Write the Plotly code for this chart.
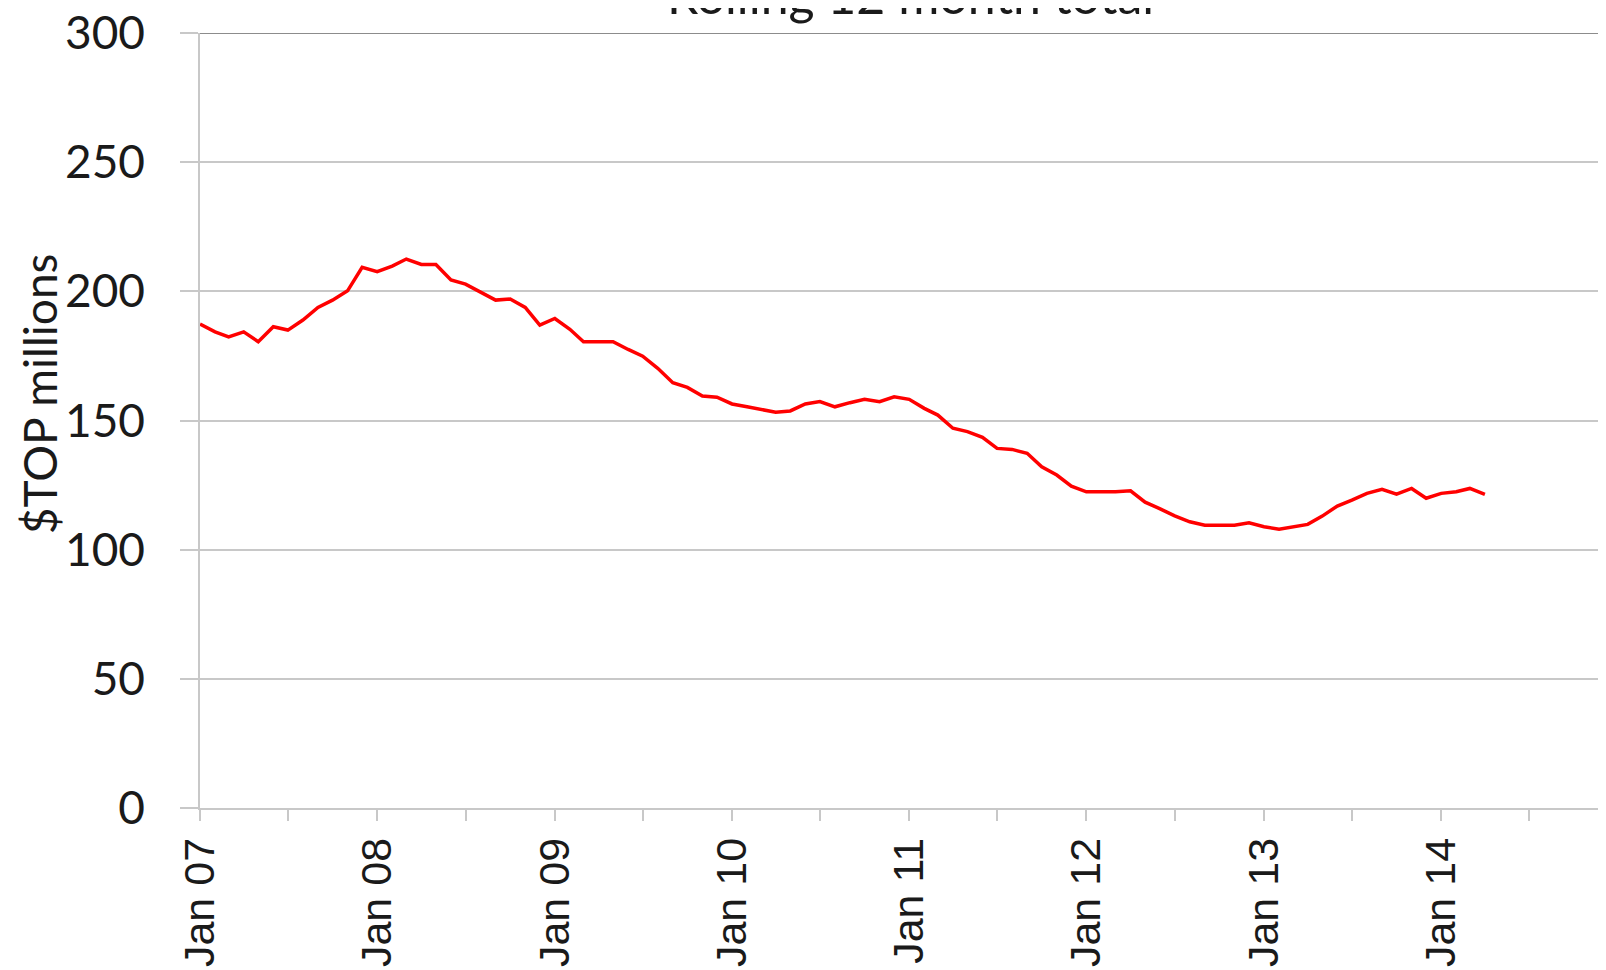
import pandas as pd
import plotly.graph_objects as go

title_text = "Rolling 12 month total"
y_title = "$TOP millions"
start_month = "2007-01-01"

# Monthly rolling 12-month totals, Jan 2007 – Apr 2014 ($TOP millions)
values = [
    187.3, 184.3, 182.4, 184.3, 180.5, 186.3, 185.0, 188.9, 193.8, 196.6, 200.2, 209.3,
    207.6, 209.8, 212.5, 210.4, 210.4, 204.4, 202.8, 199.8, 196.6, 197.0, 193.8, 186.9,
    189.5, 185.3, 180.5, 180.5, 180.5, 177.5, 174.9, 170.2, 164.6, 162.8, 159.5, 159.0,
    156.4, 155.3, 154.3, 153.2, 153.7, 156.4, 157.3, 155.3, 156.9, 158.2, 157.3, 159.2,
    158.2, 154.7, 152.1, 147.0, 145.7, 143.5, 139.2, 138.8, 137.3, 132.1, 128.9, 124.6,
    122.4, 122.4, 122.4, 122.8, 118.4, 115.8, 113.1, 110.8, 109.5, 109.5, 109.5, 110.4,
    108.9, 107.9, 108.9, 109.8, 113.0, 116.9, 119.2, 121.8, 123.4, 121.5, 123.7, 119.9,
    121.8, 122.4, 123.7, 121.4,
]
dates = pd.date_range(start_month, periods=len(values), freq="MS")

y_ticks = [0, 50, 100, 150, 200, 250, 300]

fig = go.Figure()
fig.add_trace(go.Scatter(
    x=dates, y=values, mode="lines",
    line=dict(color="#ff0000", width=3.5),
    showlegend=False, hoverinfo="skip",
))

grid_c = "#c8c8c8"
fig.update_layout(
    width=1590, height=962,
    margin=dict(l=192, r=0, t=25, b=162, autoexpand=False),
    paper_bgcolor="white", plot_bgcolor="white",
    xaxis=dict(
        type="date",
        range=["2007-01-01", "2014-11-20"],
        tick0="2007-01-01", dtick="M12", tickformat="%b %y",
        tickangle=-90,
        ticks="outside", ticklen=11, tickwidth=1.5, tickcolor=grid_c,
        minor=dict(dtick="M6", tick0="2007-01-01", ticks="outside", ticklen=11,
                   tickwidth=1.5, tickcolor=grid_c, showgrid=False),
        showgrid=False, zeroline=False,
        showline=True, linecolor=grid_c, linewidth=1.5,
        ticklabeloverflow="allow",
        tickfont=dict(family="Liberation Sans, Arial, sans-serif", size=43, color="#1a1a1a"),
        automargin=False,
    ),
    yaxis=dict(
        range=[0, 300], tickvals=y_ticks,
        ticks="outside", ticklen=18, tickwidth=1.5, tickcolor=grid_c,
        ticklabelstandoff=26, ticklabeloverflow="allow",
        showgrid=True, gridcolor=grid_c, gridwidth=1.5,
        zeroline=False,
        showline=True, linecolor=grid_c, linewidth=1.5,
        tickfont=dict(family="Lato, sans-serif", size=46, color="#1a1a1a"),
        automargin=False,
    ),
    annotations=[
        dict(text=title_text, xref="paper", yref="paper", x=0.5083, y=1.049,
             xanchor="center", yanchor="middle", showarrow=False,
             font=dict(family="Lato, sans-serif", size=50, color="#1a1a1a")),
        dict(text=y_title, xref="paper", yref="paper", x=0, xshift=-161, y=0.534,
             xanchor="center", yanchor="middle", textangle=-90, showarrow=False,
             font=dict(family="Lato, sans-serif", size=46, color="#1a1a1a")),
    ],
    shapes=[
        dict(type="line", xref="paper", yref="y", x0=0, x1=1, y0=300, y1=300,
             line=dict(color="#8c8c8c", width=2)),
    ],
)

fig.write_html("out.html")
